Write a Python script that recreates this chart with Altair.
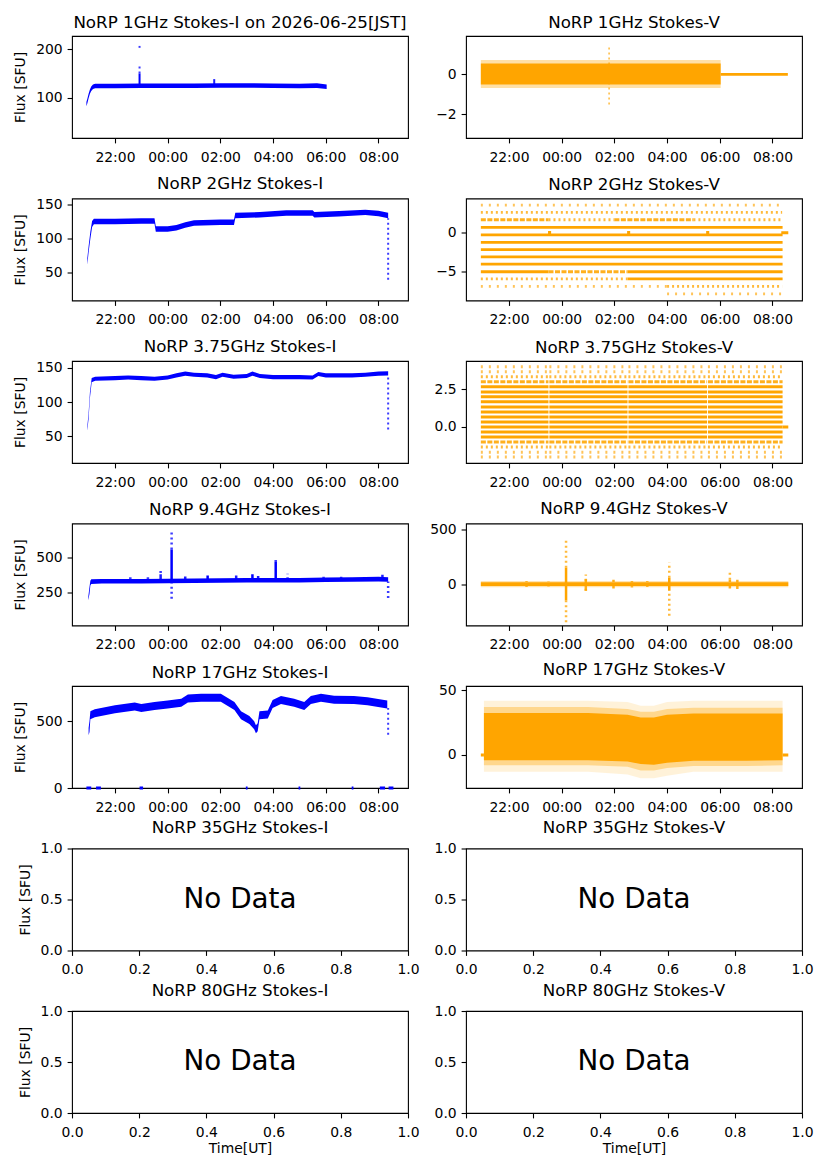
import altair as alt
import pandas as pd

FONT = "DejaVu Sans"
BLUE = "#0000ff"
ORANGE = "#ffa500"
W, H = 336, 102
XDOM = [20.37, 33.12]
TIME_TICKS = [22, 24, 26, 28, 30, 32]
UNIT_TICKS = [0.0, 0.2, 0.4, 0.6, 0.8, 1.0]

# ---------------- data (UT times) ----------------
# 1 GHz Stokes-I
I1_t = ["20:55", "20:57", "21:00", "21:03", "21:06", "21:10", "21:15", "22:00", "23:00",
        "00:00", "01:00", "02:00", "03:00", "04:00", "05:00", "05:40", "06:02"]
I1_lo = [82, 88, 99, 108, 114, 118, 119.5, 119.5, 120, 120, 120, 120.5, 120.5, 120, 119.5, 120, 118]
I1_hi = [91, 97, 108, 117, 123, 127, 129, 129, 129.5, 129.5, 129.5, 130, 130, 129.5, 129, 130, 127]
I1_sp_t = ["22:56", "22:56", "22:56", "01:46"]
I1_sp_lo = [128, 150, 203, 128]
I1_sp_hi = [150, 167, 207, 141]
I1_sp_d = ["solid", "sparse", "sparse", "medium"]

# 1 GHz Stokes-V
V1_t = ["20:56", "06:02"]
V1_lo = [-0.5, -0.5]
V1_hi = [0.55, 0.55]
V1_mlo = [-0.68, -0.68]
V1_mhi = [0.72, 0.72]
V1_sp_t = ["01:48"]
V1_sp_lo = [-1.5]
V1_sp_hi = [1.4]
V1_sp_d = ["sparse"]
V1_flat_t0 = ["06:02"]
V1_flat_t1 = ["08:35"]
V1_flat_v = [0.0]

# 2 GHz Stokes-I
I2_t = ["20:57", "21:00", "21:04", "21:08", "21:12", "22:00", "23:00", "23:30", "23:33", "00:00",
        "00:20", "00:40", "01:00", "02:00", "02:31", "02:34", "03:30", "04:30", "05:30", "05:34",
        "06:30", "07:30", "08:00", "08:22"]
I2_lo = [62, 80, 100, 117, 121, 121, 122, 122, 110, 110, 112, 116, 119, 120, 120, 130, 131,
         133.5, 133.5, 131, 132.5, 134.5, 133, 130]
I2_hi = [71, 89, 110, 126, 129, 129, 130, 130, 118, 118, 120, 124, 127, 128, 128, 138, 139,
         141.5, 141.5, 139, 140.5, 142.5, 141, 138]
I2_sp_t = ["08:22"]
I2_sp_lo = [40]
I2_sp_hi = [130]
I2_sp_d = ["sparse"]

# 2 GHz Stokes-V : quantised levels
V2_lv = [3.6, 2.65, 1.7, 1.7, 1.7, 1.7, 0.7, -0.26, -1.25, -2.2, -3.15, -4.1,
         -5.08, -5.08, -5.08, -6.02, -6.02, -7.0, -7.0, -7.96]
V2_t0 = ["20:56", "20:56", "20:56", "23:30", "02:00", "05:00", "20:56", "20:56", "20:56", "20:56",
         "20:56", "20:56", "20:56", "23:30", "02:30", "20:56", "02:30", "20:56", "04:00", "04:00"]
V2_t1 = ["08:22", "08:22", "23:30", "02:00", "05:00", "08:22", "08:23", "08:23", "08:23", "08:23",
         "08:23", "08:23", "23:30", "02:30", "08:23", "02:30", "08:23", "04:00", "08:22", "08:20"]
V2_d = ["faint", "sparse", "medium", "sparse", "medium", "sparse", "solid", "solid", "solid", "solid",
        "solid", "solid", "solid", "medium", "solid", "sparse", "solid", "faint", "sparse", "faint"]
V2_z_t0 = ["23:29", "02:29", "05:29", "08:20"]
V2_z_t1 = ["23:36", "02:36", "05:36", "08:36"]
V2_z_v = [0.05, 0.05, 0.05, 0.0]

# 3.75 GHz Stokes-I
I3_t = ["20:57", "21:00", "21:03", "21:07", "21:15", "22:00", "22:30", "23:00", "23:30", "00:00",
        "00:20", "00:40", "01:00", "01:30", "01:50", "02:05", "02:30", "03:00", "03:13", "03:30",
        "04:00", "05:00", "05:30", "05:43", "06:00", "07:00", "07:30", "08:00", "08:22"]
I3_lo = [58, 76, 106, 129, 131, 132, 133, 132, 131, 133, 136, 138.5, 137, 136, 133.5, 137, 134,
         135, 138.5, 135, 133.5, 133.5, 133, 138, 136, 136, 137, 138.5, 139]
I3_hi = [64, 84, 114, 135, 137, 138, 139, 138, 137, 139, 142, 144.5, 143, 142, 139.5, 143, 140,
         141, 144.5, 141, 139.5, 139.5, 139, 144, 142, 142, 143, 144.5, 145]
I3_sp_t = ["08:22"]
I3_sp_lo = [60]
I3_sp_hi = [139]
I3_sp_d = ["sparse"]

# 3.75 GHz Stokes-V : quantised levels, four runs separated by short gaps
V3_lv = [4.0, 3.67, 3.33, 3.0, 2.67, 2.33, 2.0, 1.67, 1.33, 1.0, 0.67, 0.33, 0.0,
         -0.33, -0.67, -1.0, -1.33, -1.67, -2.0]
V3_d = ["faint", "faint", "sparse", "medium", "solid", "solid", "solid", "solid", "solid", "solid",
        "solid", "solid", "solid", "solid", "solid", "medium", "sparse", "faint", "faint"]
V3_run_t0 = ["20:56", "23:32", "02:32", "05:33"]
V3_run_t1 = ["23:30", "02:30", "05:31", "08:23"]
V3_z_t0 = ["08:23"]
V3_z_t1 = ["08:36"]
V3_z_v = [0.0]

# 9.4 GHz Stokes-I
I4_t = ["20:59", "21:02", "21:04", "21:06", "21:30", "22:00", "23:00", "00:00", "01:00", "02:00",
        "03:00", "04:00", "05:00", "06:00", "07:00", "08:00", "08:22"]
I4_lo = [195, 240, 300, 312, 315, 315, 315, 316, 318, 320, 322, 322, 322, 325, 327, 330, 328]
I4_hi = [212, 290, 335, 345, 348, 348, 348, 349, 351, 353, 355, 355, 355, 358, 360, 363, 361]
I4_sp_t = ["00:09", "04:06", "03:13", "01:31", "23:44",
           "00:40", "02:36", "03:26", "08:09",
           "00:09", "00:09", "23:44", "04:06", "04:33", "08:22", "22:35", "23:15", "05:55", "06:35"]
I4_sp_lo = [345, 350, 345, 345, 345, 345, 345, 345, 350,
            560, 205, 390, 470, 345, 210, 345, 345, 350, 350]
I4_sp_hi = [560, 470, 382, 372, 390, 365, 372, 370, 378,
            690, 316, 425, 490, 385, 330, 365, 360, 368, 370]
I4_sp_d = ["solid", "solid", "solid", "solid", "medium",
           "medium", "medium", "medium", "medium",
           "sparse", "sparse", "sparse", "sparse", "sparse", "sparse", "sparse", "sparse", "sparse", "sparse"]

# 9.4 GHz Stokes-V
V4_t = ["20:56", "08:36"]
V4_lo = [-17, -17]
V4_hi = [17, 17]
V4_mlo = [-28, -28]
V4_mhi = [30, 30]
V4_sp_t = ["00:10", "04:05", "00:55", "01:58", "06:23", "06:40",
           "00:10", "00:10", "04:05", "04:05", "06:23", "22:40", "23:30", "02:40", "03:15", "00:55"]
V4_sp_lo = [-150, -60, -60, -40, -40, -45, 150, -350, 60, -290, 40, -25, -20, -30, -25, -60]
V4_sp_hi = [150, 60, 60, 40, 40, 40, 425, -150, 200, -60, 110, 30, 30, 30, 30, 90]
V4_sp_d = ["solid", "solid", "medium", "medium", "medium", "medium",
           "sparse", "sparse", "sparse", "sparse", "sparse", "sparse", "sparse", "sparse", "sparse", "sparse"]

# 17 GHz Stokes-I
I5_t = ["21:00", "21:02", "21:04", "21:14", "22:00", "22:45", "23:00", "23:30", "00:00", "00:31",
        "00:46", "01:16", "02:01", "02:32", "02:47", "03:06", "03:17", "03:21", "03:25", "03:29",
        "03:48", "03:59", "04:18", "04:48", "05:11", "05:26", "05:49", "06:19", "07:04", "07:35", "08:20"]
I5_lo = [395, 420, 515, 530, 560, 582, 570, 585, 597, 609, 642, 646, 646, 585, 515, 480, 440, 410,
         425, 515, 522, 600, 630, 610, 585, 630, 646, 632, 630, 620, 597]
I5_hi = [450, 500, 575, 590, 620, 642, 630, 645, 657, 669, 702, 706, 706, 645, 575, 540, 500, 470,
         485, 575, 582, 660, 690, 670, 645, 690, 706, 692, 690, 680, 657]
I5_sp_t = ["08:22"]
I5_sp_lo = [400]
I5_sp_hi = [600]
I5_sp_d = ["sparse"]
I5_z_t0 = ["20:55", "21:17", "22:56", "02:58", "04:58", "06:59", "08:03", "08:23"]
I5_z_t1 = ["21:06", "21:28", "23:04", "03:02", "05:02", "07:03", "08:15", "08:34"]
I5_z_v = [0, 0, 0, 0, 0, 0, 0, 0]

# 17 GHz Stokes-V
V5_t = ["21:03", "23:00", "01:00", "02:30", "03:00", "03:30", "04:00", "05:00", "07:00", "08:23"]
V5_lo = [-4, -4, -4, -5, -7, -7.5, -6, -4.5, -4.5, -4]
V5_hi = [32.5, 32.5, 32.5, 31, 29, 29, 31, 32, 32, 32]
V5_mlo = [-8, -8, -8, -9, -12, -12, -10, -8.5, -8.5, -8]
V5_mhi = [37, 37, 37, 35.5, 33.5, 33.5, 35.5, 36.5, 36.5, 36.5]
V5_slo = [-13, -13, -13, -15, -18, -18, -16, -13, -13, -13]
V5_shi = [42, 42, 42, 41, 38, 38, 41, 42, 42, 42]
V5_z_t0 = ["20:56", "08:23"]
V5_z_t1 = ["21:03", "08:36"]
V5_z_v = [0, 0]

NO_DATA = {"x": [0.5], "y": [0.5], "label": ["No Data"]}

# ---------------- helpers ----------------
DENS_DOMAIN = ["solid", "medium", "sparse", "faint"]
DENS = alt.Scale(domain=DENS_DOMAIN, range=[1.0, 0.65, 0.35, 0.2])
DASH = alt.Scale(domain=DENS_DOMAIN, range=[[1, 0], [5, 1.5], [2, 3], [2, 6]])


def hr(s):
    hh, mm = s.split(":")
    v = int(hh) + int(mm) / 60.0
    return v + 24.0 if int(hh) < 12 else v


def time_axis():
    return alt.Axis(values=TIME_TICKS,
                    labelExpr="(datum.value % 24 < 10 ? '0' : '') + (datum.value % 24) + ':00'",
                    title=None)


def y_axis(vals, title, fmt=None):
    kw = dict(values=vals, title=title)
    if fmt:
        kw["format"] = fmt
    return alt.Axis(**kw)


class Panel:
    def __init__(self, ydom, yax, xax, xdom=XDOM):
        self.xs = alt.Scale(domain=xdom, nice=False, zero=False)
        self.ys = alt.Scale(domain=ydom, nice=False, zero=False)
        self.xax = xax
        self.yax = yax
        self.layers = []

    def X(self, f):
        return alt.X(f + ":Q", scale=self.xs, axis=self.xax)

    def Y(self, f):
        return alt.Y(f + ":Q", scale=self.ys, axis=self.yax)

    def area(self, t, lo, hi, color, op=1.0):
        df = pd.DataFrame({"t": [hr(s) for s in t], "lo": lo, "hi": hi})
        self.layers.append(
            alt.Chart(df).mark_area(color=color, opacity=op, clip=True).encode(
                x=self.X("t"), y=self.Y("lo"), y2=alt.Y2("hi")))

    def vrules(self, t, lo, hi, dens, color, width):
        df = pd.DataFrame({"t": [hr(s) for s in t], "lo": lo, "hi": hi, "d": dens})
        self.layers.append(
            alt.Chart(df).mark_rule(color=color, strokeWidth=width, clip=True).encode(
                x=self.X("t"), y=self.Y("lo"), y2=alt.Y2("hi"),
                opacity=alt.Opacity("d:N", scale=DENS, legend=None),
                strokeDash=alt.StrokeDash("d:N", scale=DASH, legend=None)))

    def hrules(self, t0, t1, v, dens, color, width, clip=True):
        df = pd.DataFrame({"t0": [hr(s) for s in t0], "t1": [hr(s) for s in t1], "v": v, "d": dens})
        self.layers.append(
            alt.Chart(df).mark_rule(color=color, strokeWidth=width, clip=clip).encode(
                x=self.X("t0"), x2=alt.X2("t1"), y=self.Y("v"),
                opacity=alt.Opacity("d:N", scale=DENS, legend=None),
                strokeDash=alt.StrokeDash("d:N", scale=DASH, legend=None)))

    def text(self, data):
        df = pd.DataFrame(data)
        self.layers.append(
            alt.Chart(df).mark_text(font=FONT, fontSize=27.8, color="black",
                                    align="center", baseline="middle").encode(
                x=self.X("x"), y=self.Y("y"), text="label:N"))

    def chart(self, title):
        return alt.layer(*self.layers).properties(width=W, height=H, title=alt.TitleParams(title))


FLUX = "Flux [SFU]"
panels = []

# Row 1
p = Panel([16.6, 227.5], y_axis([100, 200], FLUX), time_axis())
p.area(I1_t, I1_lo, I1_hi, BLUE)
p.vrules(I1_sp_t, I1_sp_lo, I1_sp_hi, I1_sp_d, BLUE, 2)
panels.append(p.chart("NoRP 1GHz Stokes-I on 2026-06-25[JST]"))

p = Panel([-3.18, 1.92], y_axis([-2, 0], None), time_axis())
p.area(V1_t, V1_mlo, V1_mhi, ORANGE, 0.35)
p.area(V1_t, V1_lo, V1_hi, ORANGE)
p.vrules(V1_sp_t, V1_sp_lo, V1_sp_hi, V1_sp_d, ORANGE, 1.5)
p.hrules(V1_flat_t0, V1_flat_t1, V1_flat_v, ["solid"], ORANGE, 2.7)
panels.append(p.chart("NoRP 1GHz Stokes-V"))

# Row 2
p = Panel([9.5, 158.8], y_axis([50, 100, 150], FLUX), time_axis())
p.area(I2_t, I2_lo, I2_hi, BLUE)
p.vrules(I2_sp_t, I2_sp_lo, I2_sp_hi, I2_sp_d, BLUE, 2)
panels.append(p.chart("NoRP 2GHz Stokes-I"))

p = Panel([-8.83, 4.47], y_axis([-5, 0], None), time_axis())
p.hrules(V2_t0, V2_t1, V2_lv, V2_d, ORANGE, 2.8)
p.hrules(V2_z_t0, V2_z_t1, V2_z_v, ["solid"] * len(V2_z_v), ORANGE, 3)
panels.append(p.chart("NoRP 2GHz Stokes-V"))

# Row 3
p = Panel([11, 160], y_axis([50, 100, 150], FLUX), time_axis())
p.area(I3_t, I3_lo, I3_hi, BLUE)
p.vrules(I3_sp_t, I3_sp_lo, I3_sp_hi, I3_sp_d, BLUE, 2)
panels.append(p.chart("NoRP 3.75GHz Stokes-I"))

p = Panel([-2.39, 4.38], y_axis([0, 2.5], None, ".1f"), time_axis())
v3_t0, v3_t1, v3_v, v3_d = [], [], [], []
for lv, d in zip(V3_lv, V3_d):
    for a, b in zip(V3_run_t0, V3_run_t1):
        v3_t0.append(a)
        v3_t1.append(b)
        v3_v.append(lv)
        v3_d.append(d)
p.hrules(v3_t0, v3_t1, v3_v, v3_d, ORANGE, 3)
p.hrules(V3_z_t0, V3_z_t1, V3_z_v, ["solid"], ORANGE, 3)
panels.append(p.chart("NoRP 3.75GHz Stokes-V"))

# Row 4
p = Panel([12, 748], y_axis([250, 500], FLUX), time_axis())
p.area(I4_t, I4_lo, I4_hi, BLUE)
p.vrules(I4_sp_t, I4_sp_lo, I4_sp_hi, I4_sp_d, BLUE, 2.5)
panels.append(p.chart("NoRP 9.4GHz Stokes-I"))

p = Panel([-379, 557], y_axis([0, 500], None), time_axis())
p.area(V4_t, V4_mlo, V4_mhi, ORANGE, 0.3)
p.area(V4_t, V4_lo, V4_hi, ORANGE)
p.vrules(V4_sp_t, V4_sp_lo, V4_sp_hi, V4_sp_d, ORANGE, 2.5)
panels.append(p.chart("NoRP 9.4GHz Stokes-V"))

# Row 5
p = Panel([0, 765], y_axis([0, 500], FLUX), time_axis())
p.area(I5_t, I5_lo, I5_hi, BLUE)
p.vrules(I5_sp_t, I5_sp_lo, I5_sp_hi, I5_sp_d, BLUE, 2)
p.hrules(I5_z_t0, I5_z_t1, I5_z_v, ["solid"] * len(I5_z_v), BLUE, 3, clip=False)
panels.append(p.chart("NoRP 17GHz Stokes-I"))

p = Panel([-25.5, 53.3], y_axis([0, 50], None), time_axis())
p.area(V5_t, V5_slo, V5_shi, ORANGE, 0.15)
p.area(V5_t, V5_mlo, V5_mhi, ORANGE, 0.35)
p.area(V5_t, V5_lo, V5_hi, ORANGE)
p.hrules(V5_z_t0, V5_z_t1, V5_z_v, ["solid", "solid"], ORANGE, 3)
panels.append(p.chart("NoRP 17GHz Stokes-V"))

# Rows 6 and 7: no data
for freq, last in (("35GHz", False), ("80GHz", True)):
    for stokes, ytitle in (("I", FLUX), ("V", None)):
        xax = alt.Axis(values=UNIT_TICKS, format=".1f", title="Time[UT]" if last else None)
        p = Panel([0, 1], y_axis([0, 0.5, 1.0], ytitle, ".1f"), xax, xdom=[0, 1])
        p.text(NO_DATA)
        panels.append(p.chart(f"NoRP {freq} Stokes-{stokes}"))

chart = alt.concat(*panels, columns=2, spacing={"row": 60.5, "column": 58}, bounds="flush")
chart = chart.properties(padding={"left": 5, "top": 5, "right": 5, "bottom": 5}, background="white")
chart = (chart
         .configure_view(stroke="black", strokeWidth=1.1)
         .configure_axis(labelFont=FONT, labelFontSize=13.9, labelColor="black",
                         tickColor="black", tickSize=4.9, tickWidth=1.1, labelPadding=4.9,
                         titleFont=FONT, titleFontSize=13.9, titleFontWeight="normal",
                         titleColor="black", grid=False, domain=False,
                         labelFlush=False, labelOverlap=False)
         .configure_axisY(titlePadding=8)
         .configure_axisX(titlePadding=2, labelPadding=7.5)
         .configure_title(font=FONT, fontSize=16.7, fontWeight="normal", color="black",
                          offset=4.8, frame="group", baseline="alphabetic", anchor="middle"))

chart.save("out.html", embed_options={"renderer": "svg", "actions": False})
